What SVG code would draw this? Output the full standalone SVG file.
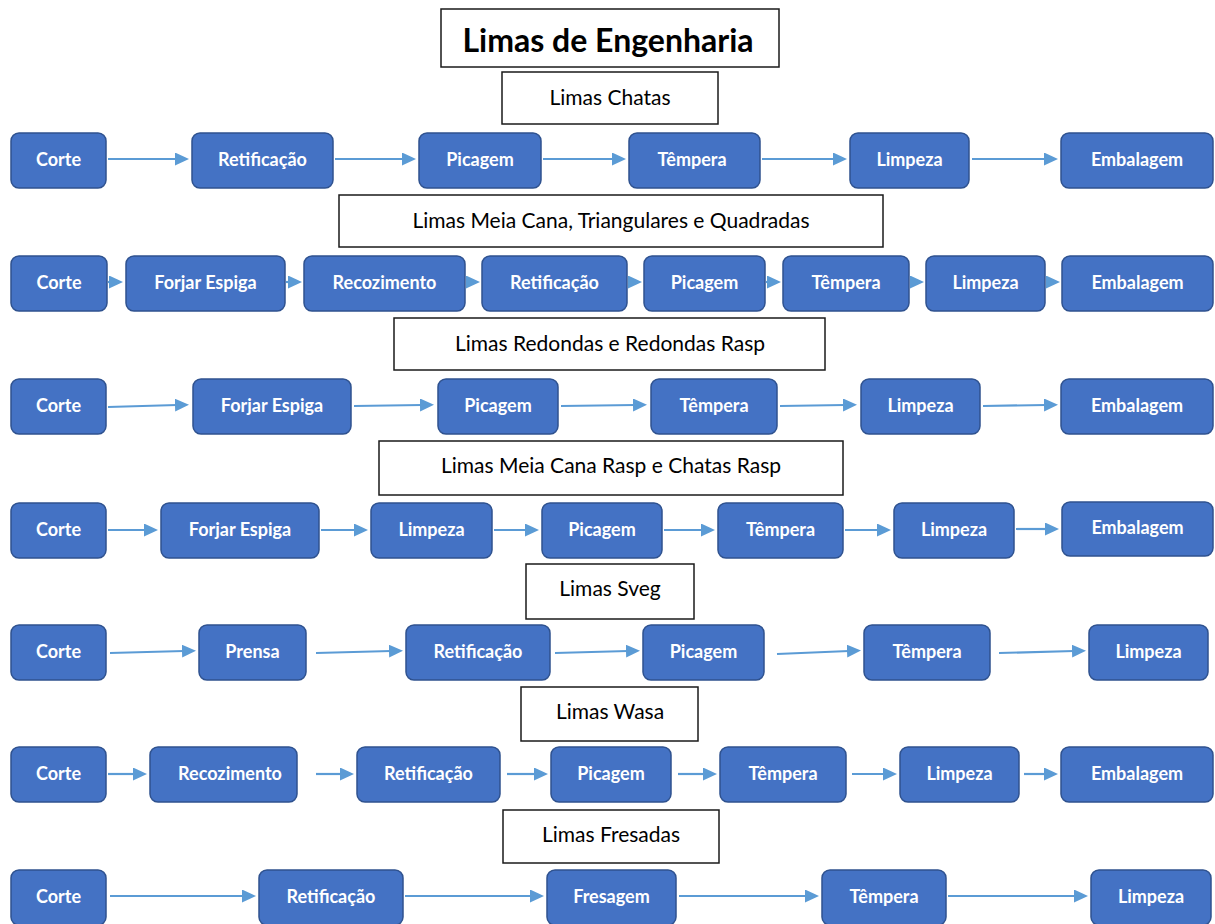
<svg xmlns="http://www.w3.org/2000/svg" width="1215" height="924" viewBox="0 0 1215 924">
  <style>
    .bg { fill: #ffffff; }
    .title-box { fill: #ffffff; stroke: #1a1a1a; stroke-width: 1.5; }
    .title-text { font-family: Lato, "Liberation Sans", sans-serif; font-weight: 700; font-size: 32px; fill: #000000; text-anchor: middle; }
    .head-box { fill: #ffffff; stroke: #1a1a1a; stroke-width: 1.5; }
    .head-text { font-family: Lato, "Liberation Sans", sans-serif; font-size: 21px; fill: #000000; text-anchor: middle; }
    .step rect { fill: #4472C4; stroke: #2F528F; stroke-width: 1.5; }
    .step text { font-family: Lato, "Liberation Sans", sans-serif; font-weight: 700; font-size: 18px; fill: #ffffff; text-anchor: middle; }
    .conn line { stroke: #5B9BD5; stroke-width: 2.2; marker-end: url(#head); }
  </style>
  <defs>
    <marker id="head" markerUnits="userSpaceOnUse" markerWidth="14" markerHeight="13" refX="2" refY="6.5" orient="auto">
      <path d="M0,0 L14,6.5 L0,13 z" fill="#5B9BD5"/>
    </marker>
  </defs>

  <rect class="bg" x="0" y="0" width="1215" height="924"/>

  <!-- title and section headings -->
  <g id="title">
    <rect class="title-box" x="441" y="9" width="338" height="58"/>
    <text class="title-text" x="608" y="52">Limas de Engenharia</text>
  </g>
  <g id="h-chatas">
    <rect class="head-box" x="502" y="72" width="216" height="52"/>
    <text class="head-text" x="610" y="105">Limas Chatas</text>
  </g>
  <g id="h-meiacana">
    <rect class="head-box" x="339" y="195" width="544" height="52"/>
    <text class="head-text" x="611" y="228">Limas Meia Cana, Triangulares e Quadradas</text>
  </g>
  <g id="h-redondas">
    <rect class="head-box" x="394" y="318" width="431" height="52"/>
    <text class="head-text" x="610" y="351">Limas Redondas e Redondas Rasp</text>
  </g>
  <g id="h-rasp">
    <rect class="head-box" x="379" y="441" width="464" height="54"/>
    <text class="head-text" x="611" y="473">Limas Meia Cana Rasp e Chatas Rasp</text>
  </g>
  <g id="h-sveg">
    <rect class="head-box" x="526" y="564" width="168" height="55"/>
    <text class="head-text" x="610" y="596">Limas Sveg</text>
  </g>
  <g id="h-wasa">
    <rect class="head-box" x="521" y="687" width="177" height="54"/>
    <text class="head-text" x="610" y="719">Limas Wasa</text>
  </g>
  <g id="h-fresadas">
    <rect class="head-box" x="503" y="810" width="216" height="53"/>
    <text class="head-text" x="611" y="842">Limas Fresadas</text>
  </g>

  <!-- connectors -->
  <g id="connectors" class="conn">
    <!-- Limas Chatas -->
    <line x1="108" y1="159" x2="177" y2="159"/>
    <line x1="335" y1="159" x2="404" y2="159"/>
    <line x1="543" y1="159" x2="614" y2="159"/>
    <line x1="762" y1="159" x2="835" y2="159"/>
    <line x1="972" y1="159" x2="1046" y2="159"/>
    <!-- Limas Meia Cana, Triangulares e Quadradas -->
    <line x1="108" y1="282" x2="111" y2="282"/>
    <line x1="286" y1="282" x2="290" y2="282"/>
    <line x1="466" y1="282" x2="468" y2="282"/>
    <line x1="628" y1="282" x2="630" y2="282"/>
    <line x1="766" y1="282" x2="769" y2="282"/>
    <line x1="910" y1="282" x2="912" y2="282"/>
    <line x1="1046" y1="282" x2="1048" y2="282"/>
    <!-- Limas Redondas e Redondas Rasp -->
    <line x1="108" y1="407" x2="177" y2="405"/>
    <line x1="354" y1="406" x2="422" y2="405"/>
    <line x1="561" y1="406" x2="635" y2="405"/>
    <line x1="780" y1="406" x2="845" y2="405"/>
    <line x1="983" y1="406" x2="1046" y2="405"/>
    <!-- Limas Meia Cana Rasp e Chatas Rasp -->
    <line x1="108" y1="530" x2="146" y2="530"/>
    <line x1="321" y1="530" x2="356" y2="530"/>
    <line x1="494" y1="530" x2="527" y2="530"/>
    <line x1="664" y1="530" x2="703" y2="530"/>
    <line x1="845" y1="530" x2="879" y2="530"/>
    <line x1="1016" y1="529" x2="1047" y2="529"/>
    <!-- Limas Sveg -->
    <line x1="110" y1="653" x2="184" y2="651"/>
    <line x1="316" y1="653" x2="391" y2="651"/>
    <line x1="555" y1="653" x2="628" y2="651"/>
    <line x1="777" y1="654" x2="849" y2="651"/>
    <line x1="999" y1="653" x2="1074" y2="651"/>
    <!-- Limas Wasa -->
    <line x1="108" y1="774" x2="135" y2="774"/>
    <line x1="316" y1="774" x2="342" y2="774"/>
    <line x1="507" y1="774" x2="536" y2="774"/>
    <line x1="678" y1="774" x2="705" y2="774"/>
    <line x1="852" y1="774" x2="885" y2="774"/>
    <line x1="1024" y1="774" x2="1046" y2="774"/>
    <!-- Limas Fresadas -->
    <line x1="110" y1="896" x2="244" y2="896"/>
    <line x1="405" y1="896" x2="532" y2="896"/>
    <line x1="679" y1="896" x2="807" y2="896"/>
    <line x1="948" y1="896" x2="1076" y2="896"/>
  </g>

  <!-- Limas Chatas -->
  <g id="r1-corte" class="step"><rect x="11" y="133" width="95" height="55" rx="8"/><text x="58.5" y="166">Corte</text></g>
  <g id="r1-retificacao" class="step"><rect x="192" y="133" width="141" height="55" rx="8"/><text x="262.5" y="166">Retificação</text></g>
  <g id="r1-picagem" class="step"><rect x="419" y="133" width="122" height="55" rx="8"/><text x="480" y="166">Picagem</text></g>
  <g id="r1-tempera" class="step"><rect x="629" y="133" width="131" height="55" rx="8"/><text x="692" y="166">Têmpera</text></g>
  <g id="r1-limpeza" class="step"><rect x="850" y="133" width="119" height="55" rx="8"/><text x="909.5" y="166">Limpeza</text></g>
  <g id="r1-embalagem" class="step"><rect x="1061" y="133" width="152" height="55" rx="8"/><text x="1137" y="166">Embalagem</text></g>

  <!-- Limas Meia Cana, Triangulares e Quadradas -->
  <g id="r2-corte" class="step"><rect x="11" y="256" width="96" height="55" rx="8"/><text x="59" y="289">Corte</text></g>
  <g id="r2-forjar" class="step"><rect x="126" y="256" width="159" height="55" rx="8"/><text x="205.5" y="289">Forjar Espiga</text></g>
  <g id="r2-recozimento" class="step"><rect x="304" y="256" width="161" height="55" rx="8"/><text x="384.5" y="289">Recozimento</text></g>
  <g id="r2-retificacao" class="step"><rect x="482" y="256" width="145" height="55" rx="8"/><text x="554.5" y="289">Retificação</text></g>
  <g id="r2-picagem" class="step"><rect x="644" y="256" width="121" height="55" rx="8"/><text x="704.5" y="289">Picagem</text></g>
  <g id="r2-tempera" class="step"><rect x="783" y="256" width="126" height="55" rx="8"/><text x="846" y="289">Têmpera</text></g>
  <g id="r2-limpeza" class="step"><rect x="926" y="256" width="119" height="55" rx="8"/><text x="985.5" y="289">Limpeza</text></g>
  <g id="r2-embalagem" class="step"><rect x="1062" y="256" width="151" height="55" rx="8"/><text x="1137.5" y="289">Embalagem</text></g>

  <!-- Limas Redondas e Redondas Rasp -->
  <g id="r3-corte" class="step"><rect x="11" y="379" width="95" height="55" rx="8"/><text x="58.5" y="412">Corte</text></g>
  <g id="r3-forjar" class="step"><rect x="193" y="379" width="158" height="55" rx="8"/><text x="272" y="412">Forjar Espiga</text></g>
  <g id="r3-picagem" class="step"><rect x="438" y="379" width="120" height="55" rx="8"/><text x="498" y="412">Picagem</text></g>
  <g id="r3-tempera" class="step"><rect x="651" y="379" width="126" height="55" rx="8"/><text x="714" y="412">Têmpera</text></g>
  <g id="r3-limpeza" class="step"><rect x="861" y="379" width="119" height="55" rx="8"/><text x="920.5" y="412">Limpeza</text></g>
  <g id="r3-embalagem" class="step"><rect x="1061" y="379" width="152" height="55" rx="8"/><text x="1137" y="412">Embalagem</text></g>

  <!-- Limas Meia Cana Rasp e Chatas Rasp -->
  <g id="r4-corte" class="step"><rect x="11" y="503" width="95" height="55" rx="8"/><text x="58.5" y="536">Corte</text></g>
  <g id="r4-forjar" class="step"><rect x="161" y="503" width="158" height="55" rx="8"/><text x="240" y="536">Forjar Espiga</text></g>
  <g id="r4-limpeza1" class="step"><rect x="371" y="503" width="121" height="55" rx="8"/><text x="431.5" y="536">Limpeza</text></g>
  <g id="r4-picagem" class="step"><rect x="542" y="503" width="120" height="55" rx="8"/><text x="602" y="536">Picagem</text></g>
  <g id="r4-tempera" class="step"><rect x="718" y="503" width="125" height="55" rx="8"/><text x="780.5" y="536">Têmpera</text></g>
  <g id="r4-limpeza2" class="step"><rect x="894" y="503" width="120" height="55" rx="8"/><text x="954" y="536">Limpeza</text></g>
  <g id="r4-embalagem" class="step"><rect x="1062" y="502" width="151" height="54" rx="8"/><text x="1137.5" y="534">Embalagem</text></g>

  <!-- Limas Sveg -->
  <g id="r5-corte" class="step"><rect x="11" y="625" width="95" height="55" rx="8"/><text x="58.5" y="658">Corte</text></g>
  <g id="r5-prensa" class="step"><rect x="199" y="625" width="107" height="55" rx="8"/><text x="252.5" y="658">Prensa</text></g>
  <g id="r5-retificacao" class="step"><rect x="406" y="625" width="144" height="55" rx="8"/><text x="478" y="658">Retificação</text></g>
  <g id="r5-picagem" class="step"><rect x="643" y="625" width="121" height="55" rx="8"/><text x="703.5" y="658">Picagem</text></g>
  <g id="r5-tempera" class="step"><rect x="864" y="625" width="126" height="55" rx="8"/><text x="927" y="658">Têmpera</text></g>
  <g id="r5-limpeza" class="step"><rect x="1089" y="625" width="119" height="55" rx="8"/><text x="1148.5" y="658">Limpeza</text></g>

  <!-- Limas Wasa -->
  <g id="r6-corte" class="step"><rect x="11" y="747" width="95" height="55" rx="8"/><text x="58.5" y="780">Corte</text></g>
  <g id="r6-recozimento" class="step"><rect x="150" y="747" width="147" height="55" rx="8"/><text x="230" y="780">Recozimento</text></g>
  <g id="r6-retificacao" class="step"><rect x="357" y="747" width="143" height="55" rx="8"/><text x="428.5" y="780">Retificação</text></g>
  <g id="r6-picagem" class="step"><rect x="551" y="747" width="120" height="55" rx="8"/><text x="611" y="780">Picagem</text></g>
  <g id="r6-tempera" class="step"><rect x="720" y="747" width="126" height="55" rx="8"/><text x="783" y="780">Têmpera</text></g>
  <g id="r6-limpeza" class="step"><rect x="900" y="747" width="119" height="55" rx="8"/><text x="959.5" y="780">Limpeza</text></g>
  <g id="r6-embalagem" class="step"><rect x="1061" y="747" width="152" height="55" rx="8"/><text x="1137" y="780">Embalagem</text></g>

  <!-- Limas Fresadas -->
  <g id="r7-corte" class="step"><rect x="11" y="870" width="95" height="55" rx="8"/><text x="58.5" y="903">Corte</text></g>
  <g id="r7-retificacao" class="step"><rect x="259" y="870" width="144" height="55" rx="8"/><text x="331" y="903">Retificação</text></g>
  <g id="r7-fresagem" class="step"><rect x="547" y="870" width="129" height="55" rx="8"/><text x="611.5" y="903">Fresagem</text></g>
  <g id="r7-tempera" class="step"><rect x="822" y="870" width="124" height="55" rx="8"/><text x="884" y="903">Têmpera</text></g>
  <g id="r7-limpeza" class="step"><rect x="1091" y="870" width="120" height="55" rx="8"/><text x="1151" y="903">Limpeza</text></g>
</svg>
